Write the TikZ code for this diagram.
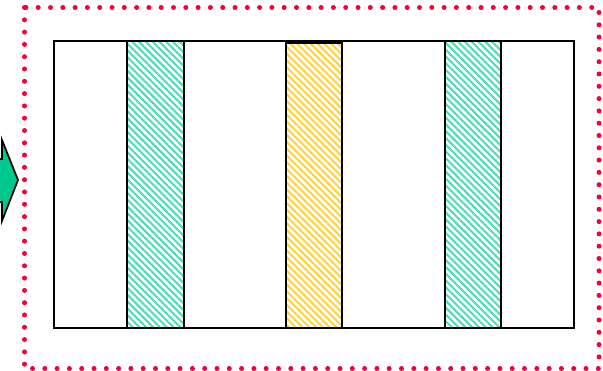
\documentclass[tikz,border=0pt]{standalone}
\usetikzlibrary{patterns.meta}
\definecolor{dotred}{HTML}{F5003A}
\definecolor{hgreen}{HTML}{48DDB2}
\definecolor{hyellow}{HTML}{FFD23A}
\definecolor{arrgreen}{HTML}{00C98F}
\begin{document}
\begin{tikzpicture}[x=1pt,y=-1pt,
  frame/.style={draw=black,line width=1.7pt},
  strip/.style={draw=black,line width=1.6pt},
  greenhatch/.style={pattern={Lines[angle=-45,distance=4.8pt,line width=2pt]},pattern color=hgreen},
  yellowhatch/.style={pattern={Lines[angle=-45,distance=4.8pt,line width=2pt]},pattern color=hyellow},
  dotframe/.style={draw=dotred,line width=5pt,line cap=round,dash pattern=on 0pt off 12.3pt}]
\useasboundingbox (0,0) rectangle (603,371);
\path[clip] (0,0) rectangle (603,371);
% main rectangle
\node[frame,minimum width=520pt,minimum height=287pt,inner sep=0pt,anchor=north west] (main) at (53,40) {};
% strips
\node[strip,greenhatch,minimum width=57pt,minimum height=287pt,inner sep=0pt,anchor=north west] (s1) at (126,40) {};
\node[strip,yellowhatch,minimum width=56pt,minimum height=285pt,inner sep=0pt,anchor=north west] (s2) at (285,42) {};
\node[strip,greenhatch,minimum width=56pt,minimum height=287pt,inner sep=0pt,anchor=north west] (s3) at (444,40) {};
% dotted frame
\draw[dotframe] (24.5,7.5) rectangle (599,368.5);
% arrow
\draw[fill=arrgreen,line width=1.7pt,line join=miter]
  (-20,159) -- (2,159) -- (2,140) -- (18,180) -- (2,221) -- (2,202) -- (-20,202) -- cycle;
\end{tikzpicture}
\end{document}
